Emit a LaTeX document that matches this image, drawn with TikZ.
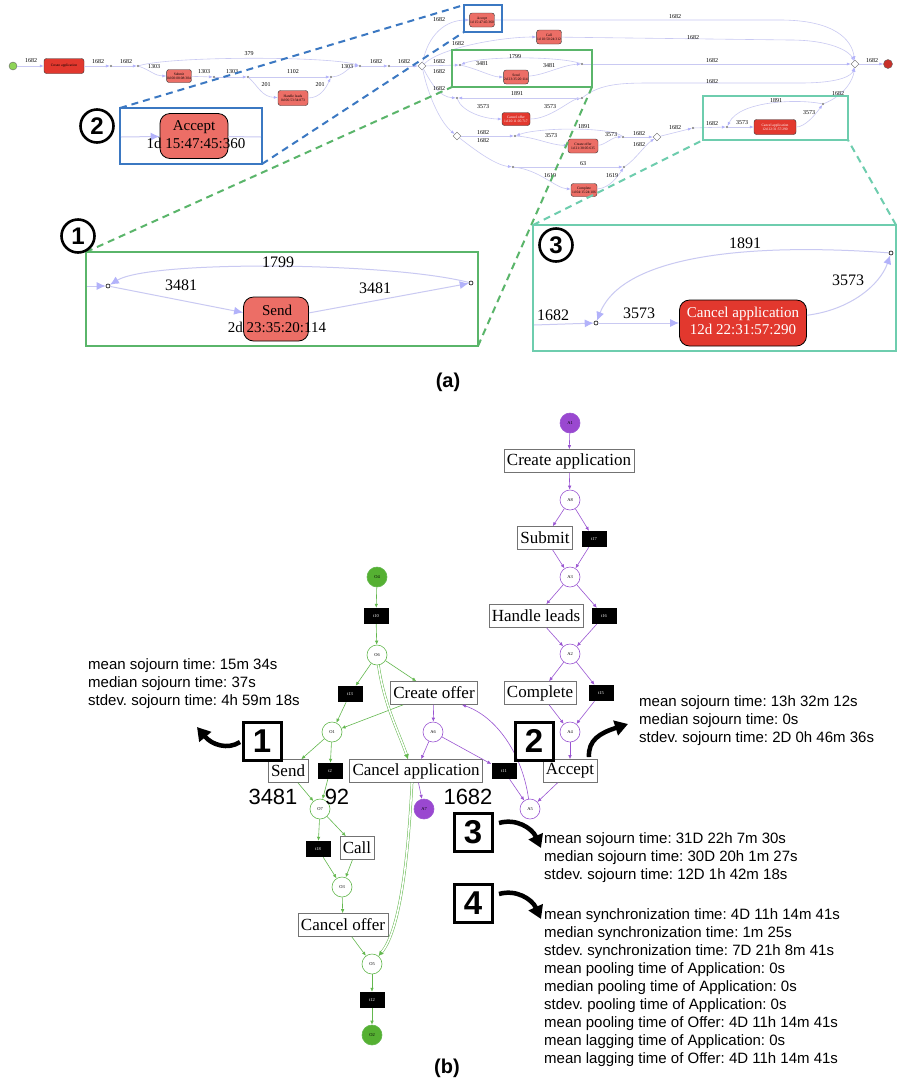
\documentclass[tikz,border=0pt]{standalone}
\usepackage{fontspec}
\setmainfont{Liberation Serif}
\setsansfont{Liberation Sans}
\frenchspacing
\usetikzlibrary{arrows.meta,shapes.geometric,calc}
\definecolor{salmon}{HTML}{EC6E66}
\definecolor{redb}{HTML}{E2382E}
\definecolor{lav}{HTML}{C9C9F2}
\definecolor{lavtip}{HTML}{B2B2FA}
\definecolor{zblue}{HTML}{3B78C2}
\definecolor{zgreen}{HTML}{5AB56A}
\definecolor{zcyan}{HTML}{6ECDAE}
\definecolor{pgreen}{HTML}{63B84E}
\definecolor{ppurple}{HTML}{9A55D2}
\definecolor{gfill}{HTML}{55B032}
\definecolor{pfill}{HTML}{9A48D0}
\definecolor{startg}{HTML}{8ED457}
\definecolor{endr}{HTML}{C8302A}
\tikzset{
 tb/.style={draw=black!80, line width=0.4pt, rounded corners=2.5pt, fill=salmon, inner sep=0.6pt, font=\fontsize{3.6}{4}\selectfont, align=center, minimum height=13pt, minimum width=22pt},
 tbr/.style={tb, fill=redb, text=white},
 el/.style={font=\fontsize{6}{6}\selectfont, inner sep=0},
 ed/.style={draw=lav, line width=0.6pt, -{Latex[length=4pt,width=3pt,color=lavtip]}},
 edn/.style={draw=lav, line width=0.6pt},
 sdot/.style={circle, draw=black!60, fill=white, inner sep=0, minimum size=1.8pt, line width=0.3pt},
 gate/.style={diamond, draw=black!60, fill=white, inner sep=0, minimum size=8pt, line width=0.4pt},
 zl/.style={font=\fontsize{16}{16}\selectfont, inner sep=0},
 zed/.style={draw=lav, line width=1pt, -{Latex[length=9pt,width=8pt,color=lavtip]}},
 zedn/.style={draw=lav, line width=1pt},
 zdot/.style={circle, draw=black, fill=white, inner sep=0, minimum size=4pt, line width=0.6pt},
 zbox/.style={draw=black, line width=0.8pt, rounded corners=10pt, fill=salmon},
 ztxt/.style={font=\fontsize{15}{15}\selectfont, inner sep=0},
 circnum/.style={circle, draw=black, fill=white, line width=2.6pt, minimum size=33pt, inner sep=0, font=\sffamily\bfseries\fontsize{24}{24}\selectfont},
 zdash/.style={dash pattern=on 7pt off 5pt, line width=2pt},
 gpl/.style={circle, draw=pgreen, fill=white, minimum size=20pt, inner sep=0, font=\fontsize{4.5}{5}\selectfont, line width=0.6pt},
 ppl/.style={gpl, draw=ppurple},
 gplf/.style={gpl, fill=gfill},
 pplf/.style={ppl, fill=pfill},
 tr/.style={rectangle, fill=black, text=white, minimum width=25pt, minimum height=16pt, inner sep=0, font=\fontsize{4.5}{5}\selectfont},
 task/.style={rectangle, draw=black!55, fill=white, line width=0.6pt, inner sep=3pt, minimum height=23pt, font=\fontsize{17}{17}\selectfont},
 ga/.style={draw=pgreen, line width=0.6pt, -{Latex[length=4pt,width=3.5pt]}},
 pa/.style={draw=ppurple, line width=0.6pt, -{Latex[length=4pt,width=3.5pt]}},
 gd/.style={draw=pgreen, double=white, double distance=1.6pt, line width=0.5pt, -{Latex[length=5pt,width=5pt]}},
 stat/.style={font=\sffamily\fontsize{15}{18}\selectfont, align=left, anchor=west, inner sep=0},
 sqn/.style={draw=black, line width=3pt, minimum size=38pt, inner sep=0, font=\sffamily\bfseries\fontsize{33}{33}\selectfont},
 bigarr/.style={line width=4.5pt, -{Triangle[length=13pt,width=15pt]}},
 cnt/.style={font=\sffamily\fontsize{22}{22}\selectfont, inner sep=0},
 captxt/.style={font=\sffamily\bfseries\fontsize{20}{20}\selectfont, inner sep=0}
}
\begin{document}
\begin{tikzpicture}[x=1pt,y=-1pt]
\useasboundingbox (0,0) rectangle (898,1085);
\fill[white] (0,0) rectangle (898,1085);

% ================= (a) top process map =================
\node[circle, draw=black!60, fill=startg, minimum size=8pt, inner sep=0, line width=0.4pt] (st) at (13,66) {};
\node[tb, fill=redb, minimum width=40pt, minimum height=15pt] (ca) at (64,66) {Create application};
\node[sdot] (p1) at (111,66) {};
\node[sdot] (p2) at (138,66) {};
\node[tb] (sub) at (179,76) {Submit\\0d 00:08:08:304};
\node[sdot] (p3) at (214,77) {};
\node[sdot] (p4) at (248,77) {};
\node[tb, minimum width=30pt, minimum height=15pt] (hl) at (293,98) {Handle leads\\0d 06:53:34:873};
\node[sdot] (p5) at (331,77) {};
\node[sdot] (p6) at (360,66) {};
\node[sdot] (p7) at (389,66) {};
\node[gate] (d1) at (422,66) {};
\node[tb, minimum height=14pt] (acc) at (482,20) {Accept\\1d 15:47:45:360};
\node[tb, minimum height=14pt] (call) at (549,37) {Call\\1d 10:50:24:312};
\node[sdot] (sL) at (460,65) {};
\node[sdot] (sR) at (582,64) {};
\node[tb, minimum height=14pt] (send) at (516,77) {Send\\2d 23:35:20:114};
\node[sdot] (coL) at (457,98) {};
\node[sdot] (coR) at (582,98) {};
\node[tbr, minimum width=28pt] (cof) at (516,119) {Cancel offer\\1d 20:11:05:717};
\node[gate] (d2) at (457,136) {};
\node[sdot] (cfL) at (515,136) {};
\node[sdot] (cfR) at (623,137) {};
\node[tb, minimum width=30pt, minimum height=14pt] (crof) at (583,146) {Create offer\\1d 21:38:05:635};
\node[sdot] (cpL) at (513,167) {};
\node[sdot] (cpR) at (624,167) {};
\node[tb, minimum width=26pt] (comp) at (584,190) {Complete\\1d 04:15:24:106};
\node[gate] (d3) at (657,137) {};
\node[sdot] (p8) at (693,128) {};
\node[sdot] (caL) at (727,127) {};
\node[sdot] (caR) at (823,104) {};
\node[tbr, minimum width=42pt, minimum height=15pt] (capp) at (775,127) {Cancel application\\12d 22:31:57:290};
\node[gate] (d4) at (855,64) {};
\node[circle, draw=black!60, fill=endr, minimum size=9pt, inner sep=0, line width=0.4pt] (en) at (888,64) {};

\draw[ed] (st) -- (ca);
\draw[ed] (ca) -- (p1);
\draw[ed] (p1) -- (p2);
\draw[ed] (p2) .. controls (170,56) and (330,56) .. (p6);
\draw[ed] (p2) .. controls (150,70) and (155,76) .. (sub);
\draw[ed] (sub) -- (p3);
\draw[ed] (p3) -- (p4);
\draw[ed] (p4) -- (p5);
\draw[ed] (p4) .. controls (258,86) and (262,97) .. (hl);
\draw[ed] (hl) .. controls (320,98) and (326,88) .. (p5);
\draw[ed] (p5) .. controls (345,76) and (348,66) .. (p6);
\draw[ed] (p6) -- (p7);
\draw[ed] (p7) -- (d1);
\draw[ed] (d1) .. controls (428,35) and (445,20) .. (acc);
\draw[ed] (d1) .. controls (440,48) and (500,37) .. (call);
\draw[ed] (d1) -- (sL);
\draw[ed] (d1) .. controls (432,85) and (440,97) .. (coL);
\draw[ed] (d1) .. controls (428,95) and (440,122) .. (d2);
\draw[ed] (sL) .. controls (478,69) and (492,77) .. (send);
\draw[ed] (send) .. controls (545,75) and (562,65) .. (sR);
\draw[ed] (sR) .. controls (560,56) and (482,56) .. (sL);
\draw[ed] (sR) -- (d4);
\draw[ed] (acc) -- (780,20) .. controls (835,20) and (852,40) .. (d4);
\draw[ed] (call) -- (790,40) .. controls (832,40) and (850,52) .. (d4);
\draw[ed] (coL) .. controls (462,112) and (485,119) .. (cof);
\draw[ed] (cof) .. controls (550,119) and (570,100) .. (coR);
\draw[ed] (coR) -- (coL);
\draw[ed] (coR) .. controls (600,84) and (620,83) .. (650,83) -- (800,83) .. controls (842,83) and (852,75) .. (d4);
\draw[ed] (d2) -- (cfL);
\draw[ed] (cfL) .. controls (535,137) and (550,145) .. (crof);
\draw[ed] (crof) .. controls (605,145) and (612,137) .. (cfR);
\draw[ed] (cfR) .. controls (612,127) and (540,127) .. (cfL);
\draw[ed] (cfR) -- (d3);
\draw[ed] (d2) .. controls (475,150) and (495,165) .. (cpL);
\draw[ed] (cpL) -- (cpR);
\draw[ed] (cpL) .. controls (540,170) and (555,188) .. (comp);
\draw[ed] (comp) .. controls (610,188) and (618,176) .. (cpR);
\draw[ed] (cpR) .. controls (635,160) and (645,145) .. (d3);
\draw[ed] (d3) -- (p8);
\draw[ed] (p8) -- (caL);
\draw[ed] (caL) -- (capp);
\draw[ed] (capp) .. controls (805,127) and (815,115) .. (caR);
\draw[ed] (caR) .. controls (800,99) and (740,100) .. (caL);
\draw[ed] (caR) .. controls (845,95) and (853,80) .. (d4);
\draw[ed] (d4) -- (en);

\foreach \n/\x/\y/\t in {1/31/61/1682,2/98/62/1682,3/126/62/1682,4/249/54/379,5/154/67/1303,
 6/204/72/1303,7/232/72/1303,8/293/72/1102,9/266/85/201,10/320/85/201,11/347/67/1303,
 12/376/62/1682,13/404/62/1682,14/439/20/1682,15/458/44/1682,16/439/62/1682,17/439/72/1682,
 18/439/89/1682,19/482/64/3481,20/549/66/3481,21/515/57/1799,22/675/17/1682,23/693/38/1682,
 24/712/61/1682,25/712/82/1682,26/517/94/1891,27/483/107/3573,28/550/107/3573,29/483/133/1682,
 30/483/141/1682,31/584/127/1891,32/551/136/3573,33/611/135/3573,34/639/134/1682,35/639/145/1682,
 36/583/164/63,37/550/176/1619,38/612/176/1619,39/675/128/1682,40/712/124/1682,41/742/123/3573,
 42/776/101/1891,43/809/113/3573,44/838/94/1682,45/872/61/1682}
 \node[el] (lab\n) at (\x,\y) {\t};

% zoom rectangles on the map
\coordinate (bs1) at (464,5);  \coordinate (bs2) at (502,32);  \coordinate (bs3) at (464,32);
\coordinate (gs1) at (452,50); \coordinate (gs2) at (592,87);  \coordinate (gs3) at (452,87);
\coordinate (cs1) at (703,96); \coordinate (cs2) at (848,140); \coordinate (cs3) at (703,140);
\coordinate (bb1) at (120,108); \coordinate (bb2) at (262,164);
\coordinate (gb1) at (86,252);  \coordinate (gb2) at (478,346);
\coordinate (cb1) at (533,225); \coordinate (cb2) at (896,351); \coordinate (cb3) at (896,225);
\draw[zblue, line width=1.6pt] (bs1) rectangle (bs2);
\draw[zgreen, line width=1.6pt] (gs1) rectangle (gs2);
\draw[zcyan, line width=1.6pt] (cs1) rectangle (cs2);
\draw[zblue, zdash] (bb1) -- (bs1);
\draw[zblue, zdash] (bb2) -- (bs3);
\draw[zgreen, zdash] (gb1) -- (gs3);
\draw[zgreen, zdash] (gb2) -- (gs2);
\draw[zcyan, zdash] (cb1) -- (cs3);
\draw[zcyan, zdash] (cb3) -- (cs2);

% ---- zoom 2 (Accept)
\draw[zblue, line width=1.4pt, fill=white] (bb1) rectangle (bb2);
\coordinate (b2in) at (121,137); \coordinate (b2out) at (261,137);
\node[zbox, minimum width=68pt, minimum height=45pt] (bacc) at (194,136) {};
\draw[zed] (b2in) -- (bacc);
\draw[zedn] (bacc) -- (b2out);
\node[ztxt] (bacct1) at (194,127) {Accept};
\node[ztxt] (bacct2) at (196,143) {1d 15:47:45:360};
\node[circnum] (c2) at (97,126) {2};

% ---- zoom 1 (Send)
\draw[zgreen, line width=1.4pt, fill=white] (gb1) rectangle (gb2);
\coordinate (g1in) at (87,286);
\node[zdot] (L1) at (108,286) {};
\node[zdot] (R1) at (471,283) {};
\node[zbox, minimum width=65pt, minimum height=44pt] (bsend) at (276,319) {};
\draw[zed] (g1in) -- (L1);
\draw[zed] (L1) -- (bsend);
\draw[zed] (bsend) -- (R1);
\draw[zed] (R1) .. controls (390,262) and (150,260) .. (L1);
\node[ztxt] (bsendt1) at (277,310) {Send};
\node[ztxt] (bsendt2) at (277,327) {2d 23:35:20:114};
\node[zl] (z1a) at (278,262) {1799};
\node[zl] (z1b) at (181,285) {3481};
\node[zl] (z1c) at (375,288) {3481};
\node[circnum] (c1) at (78,236) {1};

% ---- zoom 3 (Cancel application)
\draw[zcyan, line width=1.4pt, fill=white] (cb1) rectangle (cb2);
\coordinate (c3in) at (534,325);
\node[zdot] (L3) at (596,323) {};
\node[zdot] (R3) at (891,253) {};
\node[zbox, fill=redb, minimum width=127pt, minimum height=46pt] (bcapp) at (743,323) {};
\draw[zed] (c3in) -- (L3);
\draw[zed] (L3) -- (bcapp);
\draw[zed] (bcapp) .. controls (850,310) and (880,285) .. (R3);
\draw[zed] (R3) .. controls (770,244) and (625,250) .. (L3);
\node[ztxt, text=white] (bcappt1) at (743,314) {Cancel application};
\node[ztxt, text=white] (bcappt2) at (743,329) {12d 22:31:57:290};
\node[zl] (z3a) at (745,243) {1891};
\node[zl] (z3b) at (848,280) {3573};
\node[zl] (z3c) at (553,315) {1682};
\node[zl] (z3d) at (639,313) {3573};
\node[circnum] (c3) at (556,245) {3};

\node[captxt] (capa) at (448,382) {(a)};

% ================= (b) Petri net =================
\node[pplf] (A1) at (570,423) {A1};
\node[task] (CA) at (569,461) {Create application};
\node[ppl] (A8) at (570,500) {A8};
\node[task] (Sub) at (545,538) {Submit};
\node[tr] (t17) at (594,539) {t17};
\node[ppl] (A3) at (570,577) {A3};
\node[task] (HL) at (536,616) {Handle leads};
\node[tr] (t16) at (604,616) {t16};
\node[ppl] (A2) at (570,654) {A2};
\node[task] (Comp) at (540,693) {Complete};
\node[tr] (t15) at (601,693) {t15};
\node[ppl] (A4) at (570,732) {A4};
\node[task] (Acc) at (570,771) {Accept};
\node[ppl] (A5) at (530,809) {A5};
\node[tr] (t11) at (504,771) {t11};
\node[ppl] (A6) at (433,732) {A6};
\node[task] (CO) at (434,693) {Create offer};
\node[task] (CApp) at (416,771) {Cancel application};
\node[pplf] (A7) at (424,809) {A7};
\node[gplf] (O4) at (377,577) {O4};
\node[tr] (t10) at (376,616) {t10};
\node[gpl] (O6) at (377,655) {O6};
\node[tr] (t13) at (350,694) {t13};
\node[gpl] (O1) at (332,732) {O1};
\node[task] (Send) at (288,771) {Send};
\node[tr] (t2) at (330,771) {t2};
\node[gpl] (O7) at (320,809) {O7};
\node[tr] (t18) at (318,849) {t18};
\node[task] (Call) at (357,848) {Call};
\node[gpl] (O3) at (342,887) {O3};
\node[task] (CaO) at (343,925) {Cancel offer};
\node[gpl] (O5) at (372,964) {O5};
\node[tr] (t12) at (372,1000) {t12};
\node[gplf] (O2) at (372,1035) {O2};

\draw[pa] (A1) -- (CA);
\draw[pa] (CA) -- (A8);
\draw[pa] (A8) -- (Sub);
\draw[pa] (A8) -- (t17);
\draw[pa] (Sub) -- (A3);
\draw[pa] (t17) -- (A3);
\draw[pa] (A3) -- (HL);
\draw[pa] (A3) -- (t16);
\draw[pa] (HL) -- (A2);
\draw[pa] (t16) -- (A2);
\draw[pa] (A2) -- (Comp);
\draw[pa] (A2) -- (t15);
\draw[pa] (Comp) -- (A4);
\draw[pa] (t15) -- (A4);
\draw[pa] (A4) -- (Acc);
\draw[pa] (Acc) -- (A5);
\draw[pa] (A5) .. controls (522,752) and (495,716) .. ($(CO.south east)+(-16,0)$);
\draw[pa] (CO) -- (A6);
\draw[pa] (A6) -- (CApp);
\draw[pa] (A6) -- (t11);
\draw[pa] (t11) -- (A5);
\draw[pa] (CApp) -- (A7);

\draw[ga] (O4) -- (t10);
\draw[ga] (t10) -- (O6);
\draw[ga] (O6) -- (t13);
\draw[ga] (O6) -- (CO);
\draw[ga] (t13) -- (O1);
\draw[ga] (CO) -- (O1);
\draw[ga] (O1) -- (Send);
\draw[ga] (O1) -- (t2);
\draw[ga] (Send) -- (O7);
\draw[ga] (t2) -- (O7);
\draw[ga] (O7) -- (t18);
\draw[ga] (O7) -- (Call);
\draw[ga] (t18) -- (O3);
\draw[ga] (Call) -- (O3);
\draw[ga] (O3) -- (CaO);
\draw[ga] (CaO) -- (O5);
\draw[ga] (O5) -- (t12);
\draw[ga] (t12) -- (O2);
\draw[gd] (O6) .. controls (384,705) and (400,735) .. ($(CApp.north)+(-8,0)$);
\draw[gd] ($(CApp.south)+(-4,0)$) .. controls (408,860) and (400,930) .. (O5);

\node[cnt] (n3481) at (273,797) {3481};
\node[cnt] (n92) at (337,797) {92};
\node[cnt] (n1682) at (468,797) {1682};

\node[sqn] (sq1) at (262,741) {1};
\node[sqn] (sq2) at (534,741) {2};
\node[sqn] (sq3) at (473,832) {3};
\node[sqn] (sq4) at (473,903) {4};

\coordinate (a1s) at (240,742); \coordinate (a1e) at (197,727);
\coordinate (a2s) at (589,757); \coordinate (a2e) at (628,724);
\coordinate (a3s) at (499,823); \coordinate (a3e) at (541,848);
\coordinate (a4s) at (499,894); \coordinate (a4e) at (541,919);
\draw[bigarr] (a1s) .. controls (228,750) and (212,745) .. (a1e);
\draw[bigarr] (a2s) .. controls (588,740) and (600,733) .. (a2e);
\draw[bigarr] (a3s) .. controls (516,818) and (532,828) .. (a3e);
\draw[bigarr] (a4s) .. controls (516,889) and (532,899) .. (a4e);

\node[stat] (st1) at (88,684) {mean sojourn time: 15m 34s\\median sojourn time: 37s\\stdev. sojourn time: 4h 59m 18s};
\node[stat] (st2) at (639,721) {mean sojourn time: 13h 32m 12s\\median sojourn time: 0s\\stdev. sojourn time: 2D 0h 46m 36s};
\node[stat] (st3) at (544,858) {mean sojourn time: 31D 22h 7m 30s\\median sojourn time: 30D 20h 1m 27s\\stdev. sojourn time: 12D 1h 42m 18s};
\node[stat] (st4) at (544,988) {mean synchronization time: 4D 11h 14m 41s\\median synchronization time: 1m 25s\\stdev. synchronization time: 7D 21h 8m 41s\\mean pooling time of Application: 0s\\median pooling time of Application: 0s\\stdev. pooling time of Application: 0s\\mean pooling time of Offer: 4D 11h 14m 41s\\mean lagging time of Application: 0s\\mean lagging time of Offer: 4D 11h 14m 41s};

\node[captxt] (capb) at (447,1068) {(b)};
\end{tikzpicture}
\end{document}
